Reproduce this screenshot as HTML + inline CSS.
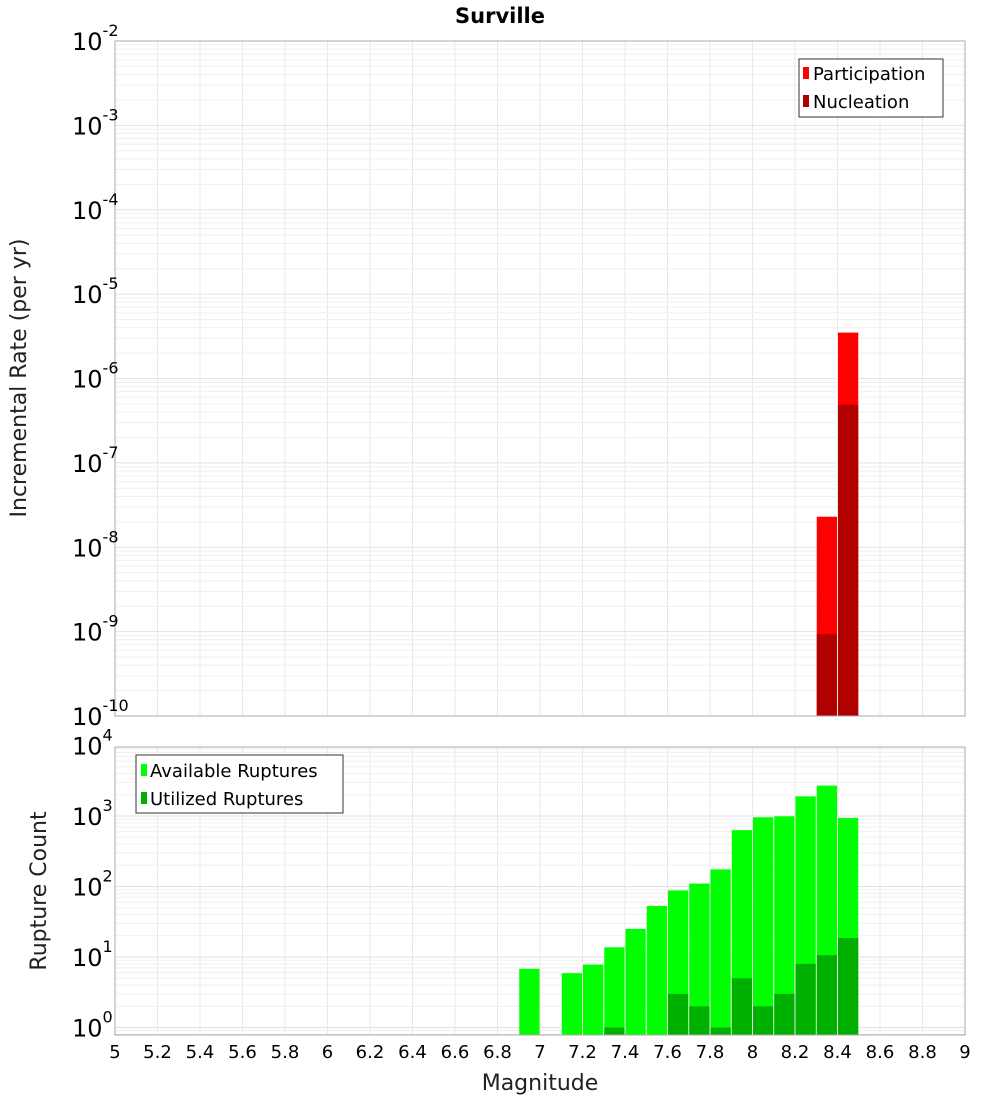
<!DOCTYPE html>
<html><head><meta charset="utf-8"><style>
body{margin:0;background:#fff;font-family:"Liberation Sans","DejaVu Sans",sans-serif}
svg text{font-family:"DejaVu Sans","Liberation Sans",sans-serif}
</style></head><body>
<svg id="c" width="1000" height="1100" xmlns="http://www.w3.org/2000/svg">
<text x="500" y="23" text-anchor="middle" font-size="21" font-weight="bold">Surville</text>
<g id="topg"></g><g id="botg"></g><g id="axg"></g>
<text transform="translate(26,378) rotate(-90)" text-anchor="middle" font-size="22" fill="#222">Incremental Rate (per yr)</text>
<text transform="translate(46,891) rotate(-90)" text-anchor="middle" font-size="22" fill="#222">Rupture Count</text>
<text x="540" y="1090" text-anchor="middle" font-size="22" fill="#222">Magnitude</text>
<g>
<rect x="799" y="59" width="144" height="58" fill="#fff" stroke="#333"/>
<rect x="803" y="67" width="6" height="12" fill="#ff0000"/><text x="813" y="80" font-size="18">Participation</text>
<rect x="803" y="95" width="6" height="12" fill="#b00000"/><text x="813" y="108" font-size="18">Nucleation</text>
</g>
<g>
<rect x="136" y="755" width="207" height="58" fill="#fff" stroke="#333"/>
<rect x="141" y="764" width="6" height="12" fill="#00ff00"/><text x="150" y="777" font-size="18">Available Ruptures</text>
<rect x="141" y="792" width="6" height="12" fill="#00b000"/><text x="150" y="805" font-size="18">Utilized Ruptures</text>
</g>
</svg>
<script>
const topMags=[8.35,8.45];
const participation=[2.3e-8,3.5e-6];
const nucleation=[9.3e-10,4.9e-7];
const botMags=[6.95,7.15,7.25,7.35,7.45,7.55,7.65,7.75,7.85,7.95,8.05,8.15,8.25,8.35,8.45];
const available=[6.8,5.9,7.8,13.7,25,53,88,110,175,630,960,990,1900,2700,940];
const utilized=[0,0,0,1,0,0,3,2,1,5,2,3,8,10.6,18.6];
const xTicks=[5,5.2,5.4,5.6,5.8,6,6.2,6.4,6.6,6.8,7,7.2,7.4,7.6,7.8,8,8.2,8.4,8.6,8.8,9];
const topExps=[-10,-9,-8,-7,-6,-5,-4,-3,-2];
const botExps=[0,1,2,3,4];
const NS="http://www.w3.org/2000/svg";
const X0=115,X1=965;
const xs=m=>X0+(m-5)/4*(X1-X0);
const T0=41,T1=716, yT=v=>T1-(Math.log10(v)+10)*(T1-T0)/8;
const B0=747,B1=1035, yB=v=>1027.5-70.5*Math.log10(v);
function mk(p,t,a){const e=document.createElementNS(NS,t);for(const k in a)e.setAttribute(k,a[k]);p.appendChild(e);return e;}
const topG=document.getElementById('topg'),botG=document.getElementById('botg'),axG=document.getElementById('axg');
function grid(g,y0,y1,exps,yf){
  for(const m of xTicks){const l=mk(g,'line',{x1:xs(m),x2:xs(m),y1:y0,y2:y1,stroke:'#e8e8e8'});
  
  }
  const es=[exps[0]-1].concat(exps);
  for(const e of es){for(let k=1;k<10;k++){const v=k*Math.pow(10,e);const yy=yf(v);if(yy<y0||yy>y1)continue;
    const l=mk(g,'line',{x1:X0,x2:X1,y1:yy,y2:yy,stroke:k==1?'#e2e2e2':'#efefef'});
    
    }}
}
grid(topG,T0,T1,topExps,yT);
grid(botG,B0,B1,botExps,yB);
const w=(xs(5.1)-xs(5))-1;
topMags.forEach((m,i)=>{
  const yp=yT(participation[i]);
  const r=mk(topG,'rect',{x:xs(m-0.05)+0.5,y:yp,width:w,height:T1-yp,fill:'#ff0000'});
  
  
  const yn=yT(nucleation[i]);
  const r2=mk(topG,'rect',{x:xs(m-0.05)+0.5,y:yn,width:w,height:T1-yn,fill:'#b00000'});
  
  
});
botMags.forEach((m,i)=>{
  const ya=Math.max(B0,yB(available[i]));
  const r=mk(botG,'rect',{x:xs(m-0.05)+0.5,y:ya,width:w,height:B1-ya,fill:'#00ff00'});
  
  
  if(utilized[i]>0){const yu=yB(utilized[i]);
  const r2=mk(botG,'rect',{x:xs(m-0.05)+0.5,y:yu,width:w,height:B1-yu,fill:'#00b000'});
  
  }
});
mk(axG,'rect',{x:X0,y:T0,width:X1-X0,height:T1-T0,fill:'none',stroke:'#aaa'});
mk(axG,'rect',{x:X0,y:B0,width:X1-X0,height:B1-B0,fill:'none',stroke:'#aaa'});
topExps.forEach(e=>{const yy=yT(Math.pow(10,e));
  const t=mk(axG,'text',{x:72,y:yy+9,'font-size':24});
  
  
  const a=mk(t,'tspan',{});a.textContent='10';
  const b=mk(t,'tspan',{dy:-14,'font-size':16});b.textContent=String(e);});
botExps.forEach(e=>{const yy=yB(Math.pow(10,e));
  const t=mk(axG,'text',{x:72,y:yy+9,'font-size':24});
  
  
  const a=mk(t,'tspan',{});a.textContent='10';
  const b=mk(t,'tspan',{dy:-14,'font-size':16});b.textContent=String(e);});
xTicks.forEach(m=>{const t=mk(axG,'text',{x:xs(m),y:1058,'text-anchor':'middle','font-size':18});
  
  
  t.textContent=String(m);});
</script>
</body></html>
